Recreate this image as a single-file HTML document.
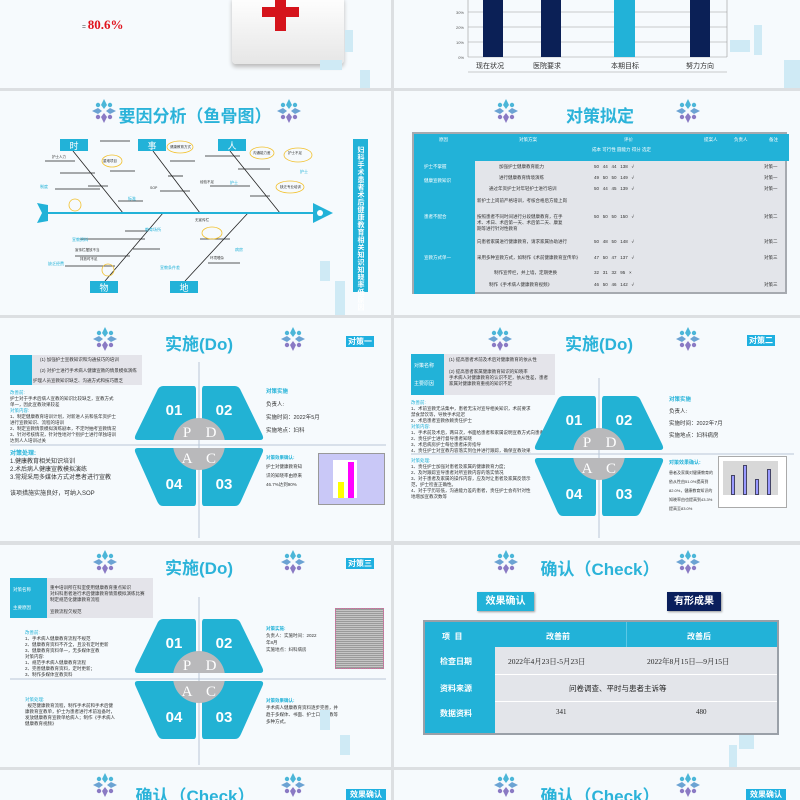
<!DOCTYPE html>
<html><head><meta charset="utf-8"><style>
*{margin:0;padding:0;box-sizing:border-box}
body{width:800px;height:800px;overflow:hidden;background:#dcdfe2;font-family:"Liberation Sans","Noto Sans CJK SC",sans-serif;position:relative}
.s{position:absolute;background:#f6fafd;overflow:hidden}
.a{position:absolute;white-space:nowrap}
.t{position:absolute;color:#2bb3d9;font-weight:bold;font-size:17px;transform:translateX(-50%);white-space:nowrap}
.fl{position:absolute;width:26px;height:26px}
.tag{position:absolute;background:#1fb0e0;color:#fff;font-size:8px;font-weight:bold;text-align:center;line-height:11px}
.sm{font-size:4.5px;color:#333;line-height:6px}
.cr{position:absolute;background:#cfeaf5}
table{border-collapse:collapse}
</style></head><body>
<svg width="0" height="0" style="position:absolute"><defs>
<g id="flw"><g fill="#4bb6d8"><path d="M13 1 L16 7 L13 11 L10 7Z"/><path d="M13 25 L16 19 L13 15 L10 19Z" fill="#8a7ac4"/><path d="M1 13 L7 10 L11 13 L7 16Z" fill="#6ba3d3"/><path d="M25 13 L19 10 L15 13 L19 16Z" fill="#6ba3d3"/><circle cx="7" cy="7" r="2.2"/><circle cx="19" cy="7" r="2.2"/><circle cx="7" cy="19" r="2.2" fill="#8a7ac4"/><circle cx="19" cy="19" r="2.2" fill="#8a7ac4"/></g></g>
<g id="pdca">
<path d="M-36 2 L-5 2 Q-3 2 -3 6 L-3 56 L-61 56 Q-66 56 -63 50 L-42 7 Q-40 2 -36 2Z" fill="#22b2d4"/>
<path d="M36 2 L5 2 Q3 2 3 6 L3 56 L61 56 Q66 56 63 50 L42 7 Q40 2 36 2Z" fill="#22b2d4"/>
<path d="M-36 122 L-5 122 Q-3 122 -3 118 L-3 64 L-61 64 Q-66 64 -63 70 L-42 117 Q-40 122 -36 122Z" fill="#22b2d4"/>
<path d="M36 122 L5 122 Q3 122 3 118 L3 64 L61 64 Q66 64 63 70 L42 117 Q40 122 36 122Z" fill="#22b2d4"/>
<clipPath id="c1"><rect x="-30" y="30" width="60" height="26"/><rect x="-30" y="64" width="60" height="30"/></clipPath>
<g clip-path="url(#c1)"><circle cx="0" cy="60" r="26" fill="#b9b9bb"/></g>
<g fill="#fff" font-family="Liberation Sans" font-weight="bold" font-size="15" text-anchor="middle"><text x="-25" y="31">01</text><text x="25" y="31">02</text><text x="-25" y="105">04</text><text x="25" y="105">03</text></g>
<g fill="#fff" font-family="Liberation Serif" font-size="15" text-anchor="middle"><text x="-12" y="53">P</text><text x="12" y="53">D</text><text x="-12" y="79">A</text><text x="12" y="79">C</text></g>
</g>
</defs></svg>

<!-- Row 1 -->
<div class="s" style="left:0;top:0;width:391px;height:88px">
<div class="a" style="left:82px;top:-6px;font-size:6px;color:#444;font-family:'Liberation Serif'">=47.3+(1-47.3%)×78.89%×80%)</div>
<div class="a" style="left:82px;top:17px;font-size:13px;color:#e0141e;font-weight:bold;font-family:'Liberation Serif'"><span style="font-size:7px;color:#333">= </span>80.6%</div>
<div class="a" style="left:232px;top:-4px;width:112px;height:68px;background:linear-gradient(#fff,#e6e6e6);border-radius:4px;box-shadow:0 3px 4px #bbb"></div>
<div class="a" style="left:275px;top:0;width:11px;height:31px;background:#d5141c"></div>
<div class="a" style="left:262px;top:7px;width:37px;height:10px;background:#d5141c"></div>
<div class="cr" style="left:345px;top:30px;width:8px;height:22px"></div><div class="cr" style="left:320px;top:60px;width:22px;height:10px"></div><div class="cr" style="left:360px;top:70px;width:10px;height:18px"></div>
</div>
<div class="s" style="left:394px;top:0;width:406px;height:88px">
<svg width="406" height="88" style="position:absolute;left:0;top:0">
<g stroke="#999" stroke-width="0.6"><line x1="74" y1="12" x2="333" y2="12"/><line x1="74" y1="27" x2="333" y2="27"/><line x1="74" y1="42" x2="333" y2="42"/><line x1="74" y1="57" x2="333" y2="57"/><line x1="74" y1="72" x2="333" y2="72"/><line x1="74" y1="0" x2="74" y2="57"/><line x1="333" y1="0" x2="333" y2="57"/></g>
<rect x="89" y="0" width="20" height="57" fill="#0b2056"/><rect x="147" y="0" width="20" height="57" fill="#0b2056"/><rect x="220" y="0" width="21" height="57" fill="#22b2d8"/><rect x="296" y="0" width="20" height="57" fill="#0b2056"/>
<g font-size="4" fill="#555" text-anchor="end"><text x="70" y="14">30%</text><text x="70" y="29">20%</text><text x="70" y="44">10%</text><text x="70" y="59">0%</text></g>
<g font-size="7" fill="#333" text-anchor="middle"><text x="96" y="68">现在状况</text><text x="153" y="68">医院要求</text><text x="231" y="68">本期目标</text><text x="306" y="68">努力方向</text></g>
</svg>
<div class="cr" style="left:336px;top:40px;width:20px;height:12px"></div><div class="cr" style="left:360px;top:25px;width:8px;height:30px"></div><div class="cr" style="left:390px;top:60px;width:16px;height:28px"></div>
</div>

<!-- Row 2 -->
<div class="s" style="left:0;top:91px;width:391px;height:224px">
<svg class="fl" style="left:91px;top:7px"><use href="#flw"/></svg><svg class="fl" style="left:276px;top:7px"><use href="#flw"/></svg>
<div class="t" style="left:195px;top:11px">要因分析（鱼骨图）</div>
<svg width="391" height="224" style="position:absolute;left:0;top:0">
<g stroke="#222" stroke-width="0.8" fill="none">
<line x1="73" y1="60" x2="123" y2="122"/><line x1="153" y1="60" x2="200" y2="122"/><line x1="230" y1="60" x2="280" y2="122"/>
<line x1="163" y1="122" x2="105" y2="190"/><line x1="248" y1="122" x2="185" y2="190"/>
<line x1="45" y1="70" x2="75" y2="70"/><line x1="60" y1="82" x2="95" y2="82"/><line x1="100" y1="50" x2="130" y2="50"/><line x1="88" y1="95" x2="108" y2="95"/><line x1="110" y1="80" x2="135" y2="80"/><line x1="55" y1="98" x2="100" y2="98"/><line x1="118" y1="110" x2="143" y2="110"/>
<line x1="170" y1="70" x2="195" y2="70"/><line x1="168" y1="85" x2="183" y2="85"/><line x1="160" y1="100" x2="190" y2="100"/>
<line x1="205" y1="65" x2="240" y2="65"/><line x1="238" y1="78" x2="270" y2="78"/><line x1="210" y1="95" x2="250" y2="95"/><line x1="250" y1="105" x2="270" y2="105"/>
<line x1="80" y1="148" x2="145" y2="148"/><line x1="75" y1="165" x2="130" y2="165"/><line x1="65" y1="175" x2="115" y2="175"/><line x1="125" y1="140" x2="148" y2="140"/><line x1="133" y1="158" x2="160" y2="158"/><line x1="200" y1="148" x2="230" y2="148"/><line x1="208" y1="172" x2="240" y2="172"/>
</g>
<line x1="48" y1="122" x2="313" y2="122" stroke="#22b2d8" stroke-width="2"/>
<path d="M313 112 L333 122 L313 132Z" fill="#22b2d8"/><circle cx="320" cy="122" r="3" fill="#fff"/>
<path d="M37 112 L48 114 L48 130 L37 132 L42 122Z" fill="#22b2d8"/>
<g fill="#22b2d8"><rect x="60" y="48" width="28" height="12"/><rect x="138" y="48" width="28" height="12"/><rect x="218" y="48" width="28" height="12"/><rect x="90" y="190" width="28" height="12"/><rect x="170" y="190" width="28" height="12"/><rect x="353" y="48" width="15" height="153"/></g>
<g fill="#fff" font-size="9" text-anchor="middle"><text x="74" y="58">时</text><text x="152" y="58">事</text><text x="232" y="58">人</text><text x="104" y="200">物</text><text x="184" y="200">地</text></g>
<g fill="none" stroke="#f2c12e" stroke-width="0.8"><ellipse cx="112" cy="70" rx="10" ry="6"/><ellipse cx="180" cy="56" rx="13" ry="6"/><ellipse cx="262" cy="62" rx="12" ry="6"/><ellipse cx="298" cy="64" rx="14" ry="7"/><ellipse cx="212" cy="142" rx="10" ry="6"/><ellipse cx="290" cy="96" rx="14" ry="6"/><ellipse cx="75" cy="114" rx="6" ry="6"/><ellipse cx="108" cy="179" rx="6" ry="6"/></g>
<g font-size="3.5" fill="#333"><text x="52" y="67">护士人力</text><text x="103" y="71">重难项目</text><text x="170" y="57">健康教育方式</text><text x="253" y="63">沟通能力差</text><text x="288" y="63">护士不足</text><text x="280" y="97">缺乏专业培训</text><text x="150" y="98">SOP</text><text x="200" y="92">经验不足</text><text x="75" y="160">宣传栏摆放不当</text><text x="80" y="169">排放时不足</text><text x="210" y="168">环境嘈杂</text><text x="195" y="130">无宣传栏</text></g>
<g font-size="4" fill="#22b2d8"><text x="40" y="97">制度</text><text x="128" y="109">标准</text><text x="230" y="93">护士</text><text x="300" y="82">护士</text><text x="48" y="174">缺乏经费</text><text x="72" y="150">宣教资料</text><text x="145" y="140">教育场所</text><text x="235" y="160">病房</text><text x="160" y="178">宣教条件差</text></g>
<text x="360.5" y="55" fill="#fff" font-size="7" font-weight="bold" writing-mode="tb" letter-spacing="0.5">妇科手术患者术后健康教育相关知识知晓率低原因</text>
</svg>
<div class="cr" style="left:320px;top:170px;width:10px;height:20px"></div><div class="cr" style="left:335px;top:190px;width:10px;height:34px"></div>
</div>

<div class="s" style="left:394px;top:91px;width:406px;height:224px">
<svg class="fl" style="left:99px;top:7px"><use href="#flw"/></svg><svg class="fl" style="left:281px;top:7px"><use href="#flw"/></svg>
<div class="t" style="left:206px;top:11px">对策拟定</div>
<div class="a" style="left:18px;top:41px;width:375px;height:162px;background:#e3e5ea;border:2px solid #a6aab0;font-size:4.5px;color:#333">
<div class="a" style="left:0;top:0;width:375px;height:27px;background:#22b2d8"></div>
<div class="a" style="left:0;top:27px;width:61px;height:133px;background:#22b2d8"></div>
<div class="a" style="left:25px;top:3px;color:#fff">原因</div><div class="a" style="left:105px;top:3px;color:#fff">对策方案</div><div class="a" style="left:210px;top:3px;color:#fff">评价</div><div class="a" style="left:290px;top:3px;color:#fff">提案人</div><div class="a" style="left:320px;top:3px;color:#fff">负责人</div><div class="a" style="left:355px;top:3px;color:#fff">备注</div>
<div class="a" style="left:178px;top:13px;color:#fff">成本 可行性 圆能力 得分 选定</div>
<div class="a" style="left:10px;top:30px;color:#fff">护士不掌握</div><div class="a" style="left:10px;top:44px;color:#fff">健康宣教知识</div><div class="a" style="left:10px;top:80px;color:#fff">患者不配合</div><div class="a" style="left:10px;top:121px;color:#fff">宣教方式单一</div>
<div class="a" style="left:85px;top:30px">加强护士健康教育能力</div><div class="a" style="left:180px;top:30px">50 &nbsp; 44 &nbsp; 44 &nbsp; 138 &nbsp; √</div><div class="a" style="left:350px;top:30px">对策一</div>
<div class="a" style="left:85px;top:41px">进行健康教育情境演练</div><div class="a" style="left:180px;top:41px">49 &nbsp; 50 &nbsp; 50 &nbsp; 149 &nbsp; √</div><div class="a" style="left:350px;top:41px">对策一</div>
<div class="a" style="left:75px;top:52px">通过年资护士对年轻护士进行培训</div><div class="a" style="left:180px;top:52px">50 &nbsp; 44 &nbsp; 45 &nbsp; 139 &nbsp; √</div><div class="a" style="left:350px;top:52px">对策一</div>
<div class="a" style="left:63px;top:64px">新护士上岗前严格培训，考核合格后方能上岗</div>
<div class="a" style="left:63px;top:80px;line-height:6px">按照患者不同时间进行分段健康教育，在手<br>术、术日、术后第一天、术后第二天、康复<br>期等进行针对性教育</div><div class="a" style="left:180px;top:80px">50 &nbsp; 50 &nbsp; 50 &nbsp; 150 &nbsp; √</div><div class="a" style="left:350px;top:80px">对策二</div>
<div class="a" style="left:63px;top:105px">向患者家属进行健康教育，请求家属协助进行</div><div class="a" style="left:180px;top:105px">50 &nbsp; 48 &nbsp; 50 &nbsp; 148 &nbsp; √</div><div class="a" style="left:350px;top:105px">对策二</div>
<div class="a" style="left:63px;top:121px">采用多种宣教方式，如制作《术前健康教育宣传单》</div><div class="a" style="left:180px;top:121px">47 &nbsp; 50 &nbsp; 47 &nbsp; 137 &nbsp; √</div><div class="a" style="left:350px;top:121px">对策三</div>
<div class="a" style="left:80px;top:136px">制作宣传栏，并上墙，定期更换</div><div class="a" style="left:180px;top:136px">32 &nbsp; 31 &nbsp; 32 &nbsp; 95 &nbsp; ×</div>
<div class="a" style="left:75px;top:148px">制作《手术病人健康教育视频》</div><div class="a" style="left:180px;top:148px">46 &nbsp; 50 &nbsp; 46 &nbsp; 142 &nbsp; √</div><div class="a" style="left:350px;top:148px">对策三</div>
</div>
</div>

<!-- Row 3 -->
<div class="s" style="left:0;top:318px;width:391px;height:223px">
<svg class="fl" style="left:92px;top:8px"><use href="#flw"/></svg><svg class="fl" style="left:280px;top:8px"><use href="#flw"/></svg>
<div class="t" style="left:199px;top:12px">实施(Do)</div>
<div class="tag" style="left:346px;top:18px;width:28px">对策一</div>
<div class="a" style="left:10px;top:37px;width:132px;height:30px;background:#e4e4ea"></div>
<div class="a" style="left:10px;top:37px;width:22px;height:30px;background:#22b2d8"></div>
<div class="a sm" style="left:40px;top:39px">(1) 加强护士宣教知识和沟通技巧的培训</div><div class="a sm" style="left:40px;top:50px">(2) 对护士进行手术病人健康宣教的情景模拟演练</div><div class="a sm" style="left:33px;top:60px">护理人员宣教知识缺乏、沟通方式和技巧匮乏</div>
<div class="a sm" style="left:10px;top:72px"><span style="color:#22b2d8">改善前:</span><br>护士对于手术后病人宣教的知识比较缺乏，宣教方式<br>单一，因此宣教效果较差<br><span style="color:#22b2d8">对策内容:</span><br>1、制定健康教育培训计划，对新进人员和低年资护士<br>进行宣教知识、流程的培训<br>2、制定宣教情景模拟演练剧本，不定时抽考宣教情况<br>3、针对考核情况，针对性地对个别护士进行单独培训<br>达到人人培训过关</div>
<div class="a" style="left:10px;top:132px;font-size:6px;color:#333;line-height:8px"><span style="color:#22b2d8;font-weight:bold">对策处理:</span><br>1.健康教育相关知识培训<br>2.术后病人健康宣教模拟演练<br>3.常规采用多媒体方式对患者进行宣教<br><br>该项措施实施良好，可纳入SOP</div>
<svg width="391" height="223" style="position:absolute;left:0;top:0"><line x1="199" y1="44" x2="199" y2="220" stroke="#b9c7d6" stroke-width="1"/><line x1="10" y1="127" x2="386" y2="127" stroke="#b9c7d6" stroke-width="1"/><use href="#pdca" x="199" y="66"/></svg>
<div class="a" style="left:266px;top:68px;font-size:5.5px;color:#333;line-height:13px"><span style="color:#22b2d8;font-weight:bold">对策实施</span><br>负责人:<br>实施时间：2022年5月<br>实施地点：妇科</div>
<div class="a" style="left:266px;top:135px;font-size:4.5px;color:#333;line-height:9px"><span style="color:#22b2d8;font-weight:bold">对策效果确认:</span><br>护士对健康教育知<br>识的知晓率由原来<br>46.7%达到90%</div>
<div class="a" style="left:318px;top:135px;width:67px;height:52px;background:#c9c8f7;border:1px solid #999"><div class="a" style="left:14px;top:6px;width:24px;height:38px;background:#fff"></div><div class="a" style="left:19px;top:28px;width:6px;height:16px;background:#ff0"></div><div class="a" style="left:29px;top:8px;width:6px;height:36px;background:#f0f"></div></div>
</div>

<div class="s" style="left:394px;top:318px;width:406px;height:223px">
<svg class="fl" style="left:93px;top:8px"><use href="#flw"/></svg><svg class="fl" style="left:281px;top:8px"><use href="#flw"/></svg>
<div class="t" style="left:205px;top:12px">实施(Do)</div>
<div class="tag" style="left:353px;top:17px;width:28px">对策二</div>
<div class="a" style="left:17px;top:36px;width:144px;height:41px;background:#e4e4ea"></div>
<div class="a" style="left:17px;top:36px;width:33px;height:41px;background:#22b2d8;color:#fff;font-size:5px;line-height:6px;padding:3px"><br>对策名称<br><br><br>主要原因</div>
<div class="a sm" style="left:55px;top:39px">(1) 提高患者术前及术后对健康教育的依从性<br><br>(2) 提高患者家属健康教育知识的知晓率<br>手术病人对健康教育的认识不足，依从性差，患者<br>家属对健康教育重视的知识不足</div>
<div class="a sm" style="left:17px;top:82px"><span style="color:#22b2d8">改善前:</span><br>1、术前宣教无法集中，患者无法对宣导相关知识，术前要求<br>禁食禁饮等，导致手术延迟<br>2、术后患者宣教依赖责任护士<br><span style="color:#22b2d8">对策内容:</span><br>1、手术前及术后，两日次，书面给患者和家属说明宣教方式向患者<br>2、责任护士进行督导患者知晓<br>3、术后病房护士每位患者床旁指导<br>4、责任护士对宣教内容落实到位并进行跟踪，确保宣教效果</div>
<div class="a sm" style="left:17px;top:140px"><span style="color:#22b2d8">对策处理:</span><br>1、责任护士加强对患者及家属的健康教育力度；<br>2、及时跟踪宣导患者对所宣教内容的落实情况<br>3、对于患者及家属的操作内容，应及时让患者及家属反馈示<br>范，护士检查正确性。<br>4、对于学历较低，沟通能力差的患者，责任护士会有针对性<br>地增加宣教次数等</div>
<svg width="406" height="223" style="position:absolute;left:0;top:0"><line x1="205" y1="60" x2="205" y2="220" stroke="#b9c7d6" stroke-width="1"/><line x1="17" y1="136" x2="400" y2="136" stroke="#b9c7d6" stroke-width="1"/><use href="#pdca" x="205" y="76"/></svg>
<div class="a" style="left:275px;top:76px;font-size:5.5px;color:#333;line-height:12px"><span style="color:#22b2d8;font-weight:bold">对策实施</span><br>负责人:<br>实施时间：2022年7月<br>实施地点：妇科病房</div>
<div class="a" style="left:275px;top:140px;font-size:4px;color:#333;line-height:9px"><span style="color:#22b2d8;font-weight:bold;font-size:5px">对策效果确认:</span><br>患者及家属对健康教育的<br>依从性由51.0%提高到<br>82.0%，健康教育知识的<br>知晓率由也提高到43.3%<br>提高至83.0%</div>
<div class="a" style="left:324px;top:138px;width:69px;height:52px;background:#fff;border:1px solid #aaa"><div class="a" style="left:4px;top:4px;width:55px;height:34px;background:#d8d8d8"></div><div class="a" style="left:12px;top:18px;width:4px;height:20px;background:#99f;border:1px solid #446"></div><div class="a" style="left:24px;top:8px;width:4px;height:30px;background:#99f;border:1px solid #446"></div><div class="a" style="left:36px;top:22px;width:4px;height:16px;background:#99f;border:1px solid #446"></div><div class="a" style="left:48px;top:12px;width:4px;height:26px;background:#99f;border:1px solid #446"></div></div>
</div>

<!-- Row 4 -->
<div class="s" style="left:0;top:545px;width:391px;height:222px">
<svg class="fl" style="left:92px;top:4px"><use href="#flw"/></svg><svg class="fl" style="left:280px;top:4px"><use href="#flw"/></svg>
<div class="t" style="left:199px;top:9px">实施(Do)</div>
<div class="tag" style="left:346px;top:13px;width:28px">对策三</div>
<div class="a" style="left:10px;top:33px;width:143px;height:40px;background:#e4e4ea"></div>
<div class="a" style="left:10px;top:33px;width:37px;height:40px;background:#22b2d8;color:#fff;font-size:4.5px;line-height:6px;padding:9px 3px">对策名称<br><br><br>主要原因</div>
<div class="a sm" style="left:50px;top:40px">重中培训所在科室使用健康教育重点知识<br>对妇科患者进行术后健康教育情景模拟演练比赛<br>制定规范化健康教育流程<br><br>宣教流程欠规范</div>
<div class="a sm" style="left:25px;top:85px"><span style="color:#22b2d8">改善前:</span><br>1、手术病人健康教育流程不规范<br>2、健康教育资料不齐全，且没有定时更新<br>3、健康教育资料单一，无多媒体宣教<br>对策内容:<br>1、规范手术病人健康教育流程<br>2、完善健康教育资料，定时更新；<br>3、制作多媒体宣教资料</div>
<div class="a sm" style="left:25px;top:152px"><span style="color:#22b2d8">对策处理:</span><br>&nbsp;&nbsp;规范健康教育流程，制作手术前和手术后健<br>康教育宣教单，护士为患者进行术前准备时，<br>发放健康教育宣教单给病人；制作《手术病人<br>健康教育视频》</div>
<svg width="391" height="222" style="position:absolute;left:0;top:0"><line x1="199" y1="52" x2="199" y2="220" stroke="#b9c7d6" stroke-width="1"/><line x1="10" y1="134" x2="386" y2="134" stroke="#b9c7d6" stroke-width="1"/><use href="#pdca" x="199" y="72"/></svg>
<div class="a" style="left:266px;top:80px;font-size:4.5px;color:#333;line-height:7px"><span style="color:#22b2d8;font-weight:bold">对策实施:</span><br>负责人：实施时间：2022<br>年8月<br>实施地点：妇科病房</div>
<div class="a" style="left:266px;top:152px;font-size:4.5px;color:#333;line-height:7px"><span style="color:#22b2d8;font-weight:bold">对策效果确认:</span><br>手术病人健康教育资料逐步完善，并<br>趋于多媒体、书面、护士口头宣教等<br>多种方式。</div>
<div class="a" style="left:335px;top:63px;width:49px;height:61px;background:repeating-linear-gradient(#9a9a9a 0 1px,#c5c5c5 1px 2px);border:1px dotted #e060a0"></div>
<div class="cr" style="left:320px;top:165px;width:10px;height:20px"></div><div class="cr" style="left:340px;top:190px;width:10px;height:20px"></div>
</div>

<div class="s" style="left:394px;top:545px;width:406px;height:222px">
<svg class="fl" style="left:99px;top:4px"><use href="#flw"/></svg><svg class="fl" style="left:281px;top:4px"><use href="#flw"/></svg>
<div class="t" style="left:206px;top:10px">确认（Check）</div>
<div class="a" style="left:83px;top:47px;width:57px;height:19px;background:#22b2d8;color:#fff;font-size:10px;font-weight:bold;text-align:center;line-height:19px;box-shadow:1px 1px 2px #999">效果确认</div>
<div class="a" style="left:273px;top:47px;width:54px;height:19px;background:#0a1f5c;color:#fff;font-size:10px;font-weight:bold;text-align:center;line-height:19px;box-shadow:1px 1px 2px #999">有形成果</div>
<div class="a" style="left:29px;top:75px;width:356px;height:115px;background:#e3e5ea;border:2px solid #9aa0a8"></div>
<div class="a" style="left:31px;top:77px;width:352px;height:25px;background:#22b2d8"></div>
<div class="a" style="left:31px;top:77px;width:70px;height:111px;background:#22b2d8"></div>
<div class="a" style="left:232px;top:77px;width:1px;height:25px;background:#5cc8e6"></div>
<div class="a" style="left:101px;top:129px;width:282px;height:1px;background:#fff"></div><div class="a" style="left:101px;top:156px;width:282px;height:1px;background:#fff"></div>
<div class="a" style="color:#fff;font-size:8px;font-weight:bold;left:48px;top:86px">项 &nbsp;目</div>
<div class="a" style="color:#fff;font-size:8px;font-weight:bold;left:152px;top:86px">改善前</div>
<div class="a" style="color:#fff;font-size:8px;font-weight:bold;left:293px;top:86px">改善后</div>
<div class="a" style="color:#fff;font-size:8px;font-weight:bold;left:46px;top:111px">检查日期</div>
<div class="a" style="color:#fff;font-size:8px;font-weight:bold;left:46px;top:138px">资料来源</div>
<div class="a" style="color:#fff;font-size:8px;font-weight:bold;left:46px;top:163px">数据资料</div>
<div class="a" style="font-family:'Liberation Serif','Noto Serif CJK SC',serif;font-size:7.5px;color:#222;left:114px;top:111px">2022年4月23日-5月23日</div>
<div class="a" style="font-family:'Liberation Serif','Noto Serif CJK SC',serif;font-size:7.5px;color:#222;left:253px;top:111px">2022年8月15日—9月15日</div>
<div class="a" style="font-size:7.5px;color:#222;left:175px;top:138px">问卷调查、平时与患者主诉等</div>
<div class="a" style="font-family:'Liberation Serif',serif;font-size:7px;color:#222;left:162px;top:163px">341</div>
<div class="a" style="font-family:'Liberation Serif',serif;font-size:7px;color:#222;left:302px;top:163px">480</div>
<div class="cr" style="left:335px;top:200px;width:8px;height:22px"></div><div class="cr" style="left:345px;top:190px;width:15px;height:14px"></div>
</div>

<!-- Row 5 -->
<div class="s" style="left:0;top:770px;width:391px;height:30px">
<svg class="fl" style="left:92px;top:2px"><use href="#flw"/></svg><svg class="fl" style="left:280px;top:2px"><use href="#flw"/></svg>
<div class="t" style="left:195px;top:12px">确认（Check）</div>
<div class="tag" style="left:346px;top:19px;width:40px">效果确认</div>
</div>
<div class="s" style="left:394px;top:770px;width:406px;height:30px">
<svg class="fl" style="left:99px;top:2px"><use href="#flw"/></svg><svg class="fl" style="left:281px;top:2px"><use href="#flw"/></svg>
<div class="t" style="left:206px;top:12px">确认（Check）</div>
<div class="tag" style="left:352px;top:19px;width:40px">效果确认</div>
</div>
</body></html>
